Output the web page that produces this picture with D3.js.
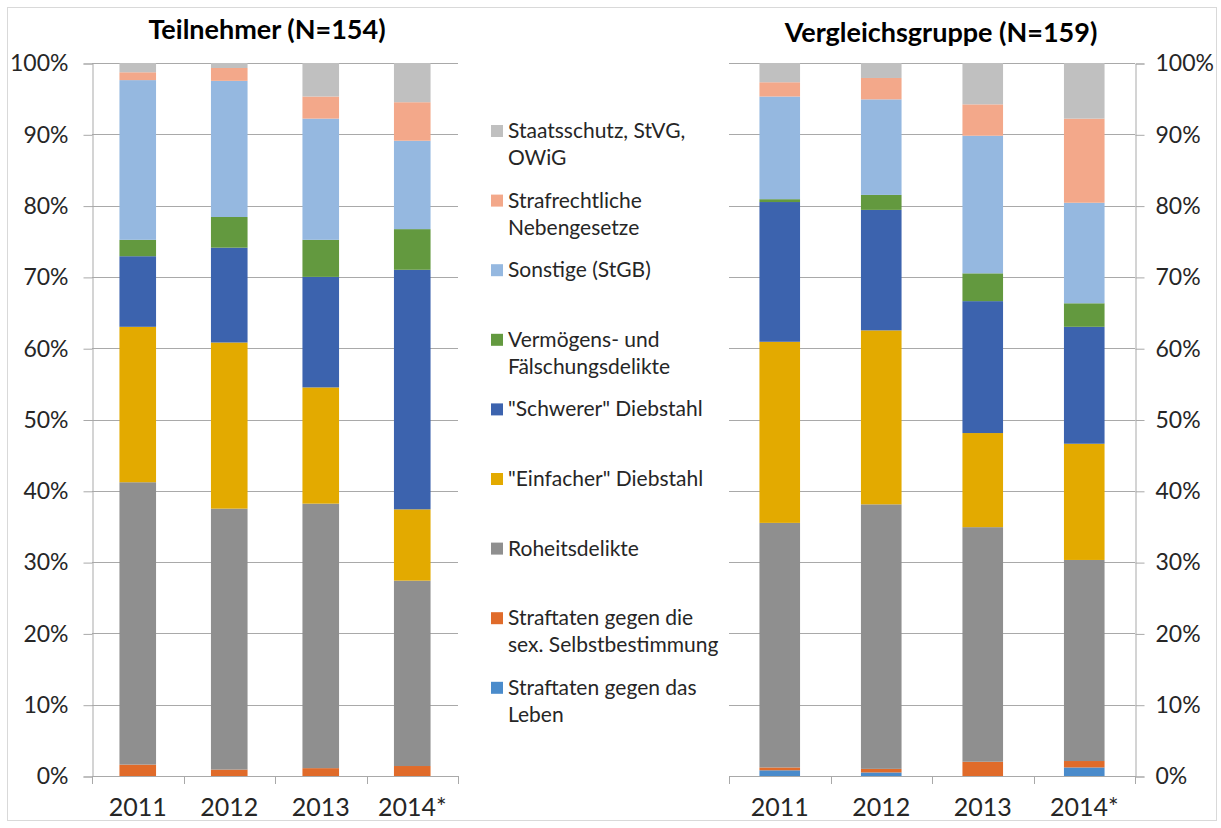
<!DOCTYPE html>
<html>
<head>
<meta charset="utf-8">
<script src="https://cdn.jsdelivr.net/npm/d3@7"></script>
<style>
  body { margin: 0; background: #fff; }
  svg { display: block; font-family: Lato, "Open Sans", sans-serif; }
</style>
</head>
<body>
<svg id="chart" width="1221" height="828"></svg>
<script>
// ---------- data ----------
const years = ["2011", "2012", "2013", "2014*"];
// series, bottom to top of the stack
const seriesKeys = [
  "Straftaten gegen das Leben",
  "Straftaten gegen die sex. Selbstbestimmung",
  "Roheitsdelikte",
  "\"Einfacher\" Diebstahl",
  "\"Schwerer\" Diebstahl",
  "Vermögens- und Fälschungsdelikte",
  "Sonstige (StGB)",
  "Strafrechtliche Nebengesetze",
  "Staatsschutz, StVG, OWiG"
];
const seriesColors = ["#4a8bcb", "#e06b2a", "#8f8f8f", "#e3aa00", "#3c63ae", "#63993f", "#95b8e0", "#f3a88a", "#c0c0c0"];
// legend labels (top to bottom), with line breaks
const legendLines = [
  ["Staatsschutz, StVG,", "OWiG"],
  ["Strafrechtliche", "Nebengesetze"],
  ["Sonstige (StGB)"],
  ["Vermögens- und", "Fälschungsdelikte"],
  ["\"Schwerer\" Diebstahl"],
  ["\"Einfacher\" Diebstahl"],
  ["Roheitsdelikte"],
  ["Straftaten gegen die", "sex. Selbstbestimmung"],
  ["Straftaten gegen das", "Leben"]
];
const yTicks = [0, 10, 20, 30, 40, 50, 60, 70, 80, 90, 100];

// Teilnehmer (N=154): one array per series (bottom to top), values per year, in %
const teilLeben     = [0.0, 0.0, 0.0, 0.0];
const teilSex       = [1.6, 0.9, 1.1, 1.4];
const teilRoheit    = [39.6, 36.6, 37.1, 26.0];
const teilEinfach   = [21.8, 23.3, 16.3, 10.0];
const teilSchwer    = [9.9, 13.3, 15.5, 33.6];
const teilVermoegen = [2.3, 4.3, 5.2, 5.7];
const teilSonstige  = [22.4, 19.1, 17.0, 12.4];
const teilNeben     = [1.1, 1.8, 3.1, 5.4];
const teilStaat     = [1.3, 0.7, 4.7, 5.5];

// Vergleichsgruppe (N=159)
const vglLeben     = [0.8, 0.5, 0.0, 1.2];
const vglSex       = [0.4, 0.5, 2.0, 0.9];
const vglRoheit    = [34.3, 37.1, 32.9, 28.2];
const vglEinfach   = [25.4, 24.4, 13.2, 16.3];
const vglSchwer    = [19.6, 16.9, 18.5, 16.4];
const vglVermoegen = [0.4, 2.1, 3.9, 3.3];
const vglSonstige  = [14.4, 13.4, 19.3, 14.1];
const vglNeben     = [2.0, 3.0, 4.4, 11.8];
const vglStaat     = [2.7, 2.1, 5.8, 7.8];

const teilSeries = [teilLeben, teilSex, teilRoheit, teilEinfach, teilSchwer, teilVermoegen, teilSonstige, teilNeben, teilStaat];
const vglSeries  = [vglLeben, vglSex, vglRoheit, vglEinfach, vglSchwer, vglVermoegen, vglSonstige, vglNeben, vglStaat];

function toRows(seriesArr) {
  return years.map((y, i) => {
    const row = { year: y };
    seriesKeys.forEach((k, j) => { row[k] = seriesArr[j][i]; });
    return row;
  });
}

// ---------- drawing ----------
const svg = d3.select("#chart");
const gridColor = "#a9a9a9";
const textColor = "#262626";

// outer frame
svg.append("rect").attr("x", 7.5).attr("y", 7.5).attr("width", 1209).attr("height", 813)
  .attr("fill", "#fff").attr("stroke", "#d9d9d9").attr("stroke-width", 1);

const y = d3.scaleLinear().domain([0, 100]).range([776, 63]);
const color = d3.scaleOrdinal().domain(seriesKeys).range(seriesColors);
const stack = d3.stack().keys(seriesKeys);

function drawPanel(opts) {
  const x = d3.scaleBand().domain(years).range([opts.x0, opts.x1]).paddingInner(0.6).paddingOuter(0.3);
  const g = svg.append("g");

  // gridlines
  g.append("g").selectAll("line").data(yTicks.filter(t => t > 0)).join("line")
    .attr("x1", opts.x0).attr("x2", opts.x1)
    .attr("y1", d => Math.round(y(d)) + 0.5).attr("y2", d => Math.round(y(d)) + 0.5)
    .attr("stroke", gridColor).attr("stroke-width", 1);

  // bars
  const stacked = stack(toRows(opts.series));
  g.append("g").selectAll("g").data(stacked).join("g")
    .attr("fill", d => color(d.key))
    .selectAll("rect").data(d => d).join("rect")
    .attr("x", d => x(d.data.year))
    .attr("width", x.bandwidth())
    .attr("y", d => y(d[1]))
    .attr("height", d => Math.max(0, y(d[0]) - y(d[1])));

  // value axis
  const axisX = opts.side === "left" ? opts.x0 : opts.x1;
  const yAxis = (opts.side === "left" ? d3.axisLeft(y) : d3.axisRight(y))
    .tickValues(yTicks).tickFormat(d => d + "%").tickSize(9)
    .tickPadding(opts.side === "left" ? 15 : 11);
  const ya = g.append("g").attr("transform", `translate(${Math.round(axisX) + 0.5},0.5)`).call(yAxis);
  ya.select(".domain").attr("stroke", gridColor);
  ya.selectAll(".tick line").attr("stroke", gridColor);
  ya.selectAll(".tick text").attr("fill", textColor).style("font-size", "23px")
    .style("font-family", "Lato, sans-serif");

  // category axis
  const boundaries = d3.range(0, years.length + 1).map(i => opts.x0 + i * (opts.x1 - opts.x0) / years.length);
  const xa = g.append("g");
  xa.append("line").attr("x1", opts.x0).attr("x2", opts.x1)
    .attr("y1", Math.round(y(0)) + 0.5).attr("y2", Math.round(y(0)) + 0.5)
    .attr("stroke", gridColor);
  xa.selectAll("line.tk").data(boundaries).join("line").attr("class", "tk")
    .attr("x1", d => Math.round(d) + 0.5).attr("x2", d => Math.round(d) + 0.5)
    .attr("y1", y(0)).attr("y2", y(0) + 8).attr("stroke", gridColor);
  xa.selectAll("text").data(years).join("text")
    .attr("x", d => x(d) + x.bandwidth() / 2)
    .attr("y", 816)
    .attr("text-anchor", "middle")
    .attr("fill", textColor)
    .style("font-size", "25px")
    .text(d => d);

  // title
  g.append("text").attr("x", opts.titleX).attr("y", opts.titleY)
    .attr("text-anchor", "middle").attr("fill", "#000")
    .style("font-size", "27px").style("font-weight", "bold")
    .text(opts.title);
}

drawPanel({ x0: 92, x1: 458, side: "left", series: teilSeries, title: "Teilnehmer (N=154)", titleX: 267, titleY: 39 });
drawPanel({ x0: 729, x1: 1135, side: "right", series: vglSeries, title: "Vergleichsgruppe (N=159)", titleX: 941, titleY: 42 });

// legend (top = last series)
const legendColors = seriesColors.slice().reverse();
const lg = svg.append("g");
const item = lg.selectAll("g").data(legendLines).join("g")
  .attr("transform", (d, i) => `translate(491, ${131 + i * 69.6})`);
item.append("rect").attr("x", 0).attr("y", -6).attr("width", 12).attr("height", 12)
  .attr("fill", (d, i) => legendColors[i]);
item.selectAll("text").data(d => d).join("text")
  .attr("x", 17).attr("y", (d, j) => 7 + j * 27)
  .attr("fill", textColor).style("font-size", "21px")
  .text(d => d);
</script>
</body>
</html>
